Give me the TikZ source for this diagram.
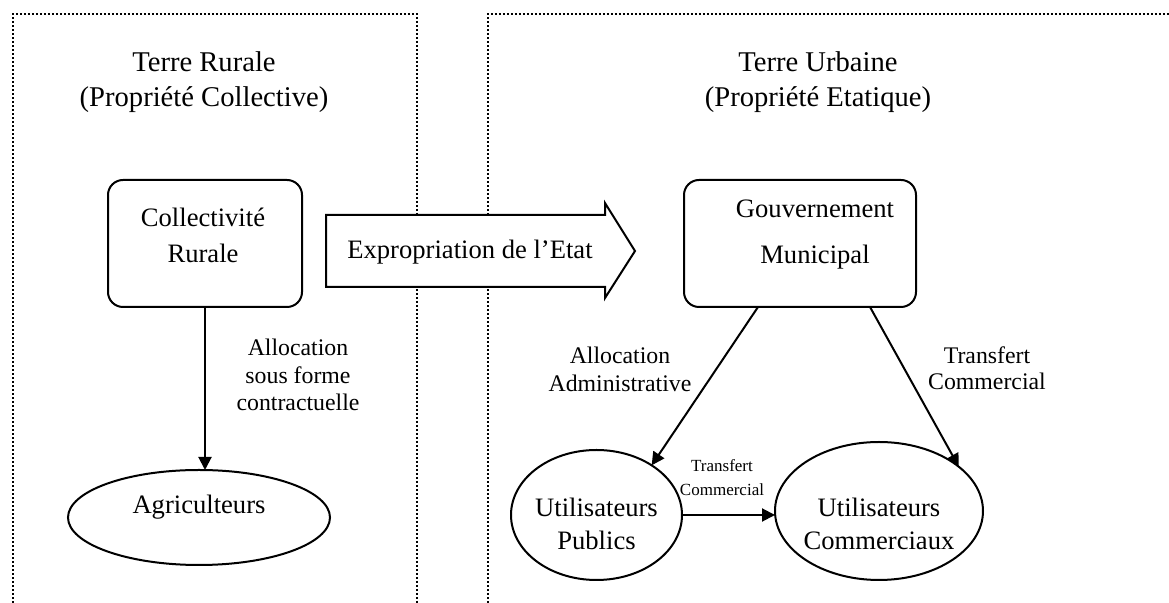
\documentclass[tikz,border=0pt]{standalone}
\usepackage{fontspec}
\setmainfont{Liberation Serif}
\usetikzlibrary{arrows.meta,calc,shapes.geometric}
\begin{document}
\begin{tikzpicture}[x=0.5pt,y=-0.5pt,
  frame/.style={line width=0.8pt, dash pattern=on 0.8pt off 1.2pt},
  rbox/.style={draw, line width=1pt, rounded corners=7.5pt, inner sep=0pt, outer sep=0pt},
  ell/.style={draw, ellipse, line width=1pt, inner sep=0pt, outer sep=0pt},
  arr/.style={line width=1pt, -{Triangle[length=6.5pt,width=6.5pt]}},
  title/.style={align=center, inner sep=0pt, font=\fontsize{14.3}{17.5}\selectfont},
  body/.style={align=center, inner sep=0pt, font=\fontsize{13.3}{18}\selectfont},
  lbl/.style={align=center, inner sep=0pt, font=\fontsize{11.9}{13.6}\selectfont},
  small/.style={align=center, inner sep=0pt, font=\fontsize{8.5}{12}\selectfont}]
\useasboundingbox (0,0) rectangle (1169,603);
% frames
\draw[frame] (13,603) -- (13,14) -- (417,14) -- (417,603);
\draw[frame] (488,603) -- (488,14) -- (1169,14);
% titles
\node[title] (t1) at (204,82) {Terre Rurale\\(Propriété Collective)};
\node[title] (t2) at (818,82) {Terre Urbaine\\(Propriété Etatique)};
% boxes
\node[rbox, minimum width=97pt, minimum height=63.5pt] (coll) at (205,243.5) {};
\node[body] (colltxt) at (203,235) {Collectivité\\Rurale};
\node[rbox, minimum width=116pt, minimum height=63.5pt] (gouv) at (800,243.5) {};
\node[body, font=\fontsize{13.3}{23}\selectfont] (gouvtxt) at (815,235) {Gouvernement\\Municipal};
% ellipses
\node[ell, minimum width=131pt, minimum height=47.5pt] (agri) at (199,517.5) {};
\node[body] (agritxt) at (199,507) {Agriculteurs};
\node[ell, minimum width=85.5pt, minimum height=65pt] (pub) at (596.5,515) {};
\node[body, font=\fontsize{13.3}{16.5}\selectfont] (pubtxt) at (596.5,523.5) {Utilisateurs\\Publics};
\node[ell, minimum width=104pt, minimum height=69pt] (com) at (879,511) {};
\node[body, font=\fontsize{13.3}{16.5}\selectfont] (comtxt) at (879,523.5) {Utilisateurs\\Commerciaux};
% big arrow
\draw[line width=1pt, fill=white, line join=miter] (326,215) -- (605,215) -- (605,203) -- (635,251) -- (605,298) -- (605,287) -- (326,287) -- cycle;
\node[body] (exp) at (470,252) {Expropriation de l’Etat};
% connectors
\draw[arr] (coll.south) -- (coll.south |- agri.north);
\draw[arr] ($(gouv.south)+(-42,0)$) -- (pub.42);
\draw[arr] ($(gouv.south)+(70,0)$) -- (com.29);
\draw[arr] (pub.east) -- (pub.east -| com.west);
% labels
\node[lbl] (l1) at (298,375) {Allocation\\sous forme\\contractuelle};
\node[lbl, font=\fontsize{11.9}{14}\selectfont] (l2) at (620,369) {Allocation\\Administrative};
\node[lbl, font=\fontsize{11.9}{13}\selectfont] (l3) at (987,368) {Transfert\\Commercial};
\node[small] (l4) at (722,478) {Transfert\\Commercial};
\end{tikzpicture}
\end{document}
